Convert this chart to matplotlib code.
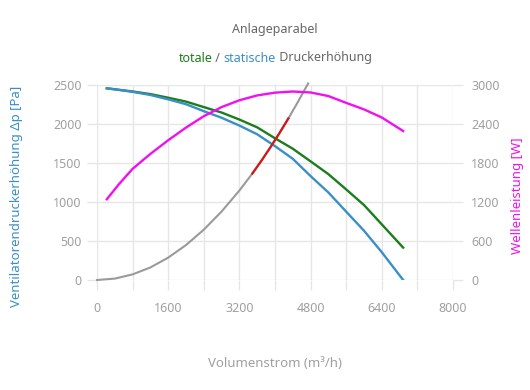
import matplotlib
matplotlib.use("Agg")
import matplotlib.pyplot as plt
from matplotlib.ticker import MultipleLocator

plt.rcParams["font.family"] = ["Noto Sans", "DejaVu Sans"]

# ---- data ----
q_fan = [220, 500, 800, 1200, 1600, 2000, 2400, 2800, 3200, 3600, 4000,
         4400, 4800, 5200, 5600, 6000, 6400, 6880]
p_total = [2458, 2438, 2417, 2383, 2337, 2287, 2217, 2147, 2057, 1957, 1817,
           1683, 1521, 1357, 1161, 961, 713, 415]
p_static = [2458, 2436, 2412, 2372, 2316, 2254, 2164, 2080, 1980, 1868, 1716,
            1554, 1332, 1122, 876, 632, 356, 0]

q_power = [220, 500, 800, 1200, 1600, 2000, 2400, 2800, 3200, 3600, 4000,
           4400, 4800, 5200, 5600, 6000, 6400, 6880]
power_w = [1242, 1480, 1710, 1940, 2150, 2345, 2520, 2660, 2765, 2840, 2882,
           2900, 2885, 2830, 2725, 2625, 2500, 2292]

q_sys = [0, 400, 800, 1200, 1600, 2000, 2400, 2800, 3200, 3500, 3700, 3900,
         4100, 4300, 4500, 4745]
p_sys = [0, 18, 72, 161, 287, 448, 645, 878, 1147, 1372, 1533, 1704,
         1883, 2071, 2268, 2520]

q_work = [3490, 3700, 3900, 4100, 4300]
p_work = [1364, 1533, 1704, 1883, 2071]

c_total = "#1b7d1b"
c_static = "#3a8fc8"
c_power = "#f010f0"
c_sys = "#9a9a9a"
c_work = "#d01818"
c_text = "#666666"
c_tick = "#a0a0a0"
c_grid = "#e6e6e6"

fig = plt.figure(figsize=(5.3, 3.9), dpi=100)
ax = fig.add_axes([97 / 530, 1 - 280 / 390, 356 / 530, 195 / 390])
ax2 = ax.twinx()

ax.plot(q_fan, p_total, color=c_total, lw=1.7, zorder=3)
ax.plot(q_fan, p_static, color=c_static, lw=1.7, zorder=3)
ax.plot(q_sys, p_sys, color=c_sys, lw=1.5, zorder=2, clip_on=False)
ax.plot(q_work, p_work, color=c_work, lw=1.6, zorder=4)
ax2.plot(q_power, power_w, color=c_power, lw=1.7)

ax.set_xlim(0, 8000)
ax.set_ylim(0, 2500)
ax2.set_ylim(0, 3000)

ax.xaxis.set_major_locator(MultipleLocator(1600))
ax.xaxis.set_minor_locator(MultipleLocator(800))
ax.yaxis.set_major_locator(MultipleLocator(500))
ax2.yaxis.set_major_locator(MultipleLocator(600))

ax.grid(True, which="both", axis="x", color=c_grid, lw=1)
ax.grid(True, axis="y", color=c_grid, lw=1)
ax.set_axisbelow(True)

for a in (ax, ax2):
    for s in a.spines.values():
        s.set_visible(False)

ax.tick_params(axis="x", which="both", length=7, width=1, color=c_grid,
               labelsize=9, labelcolor=c_tick, pad=9)
ax.tick_params(axis="y", length=7, width=1, color=c_grid,
               labelsize=9, labelcolor=c_tick, pad=4)
ax2.tick_params(axis="y", length=7, width=1, color=c_grid,
                labelsize=9, labelcolor=c_tick, pad=6)

ax.set_xlabel("Volumenstrom (m³/h)", color=c_tick, fontsize=9.5, labelpad=30)
ax.set_ylabel("Ventilatorendruckerhöhung Δp [Pa]", color=c_static, fontsize=9.5,
              va="center")
ax.yaxis.set_label_coords(-0.225, 0.43)
ax2.set_ylabel("Wellenleistung [W]", color=c_power, fontsize=9.5, va="center")
ax2.yaxis.set_label_coords(1.18, 0.43)

fig.text(275 / 530, 1 - 30 / 390, "Anlageparabel", color=c_text, fontsize=9,
         ha="center", va="center")

# multi-coloured subtitle
parts = [("totale", c_total), (" / ", c_text), ("statische", c_static),
         (" Druckerhöhung", c_text)]
renderer = fig.canvas.get_renderer()
texts = []
x = 0.0
for s, col in parts:
    t = fig.text(x, 1 - 58 / 390, s, color=col, fontsize=9, ha="left",
                 va="center")
    w = t.get_window_extent(renderer).width / fig.bbox.width
    texts.append((t, x))
    x += w
start = 275 / 530 - x / 2
for t, off in texts:
    t.set_x(start + off)

fig.savefig("out.png", dpi=100)
